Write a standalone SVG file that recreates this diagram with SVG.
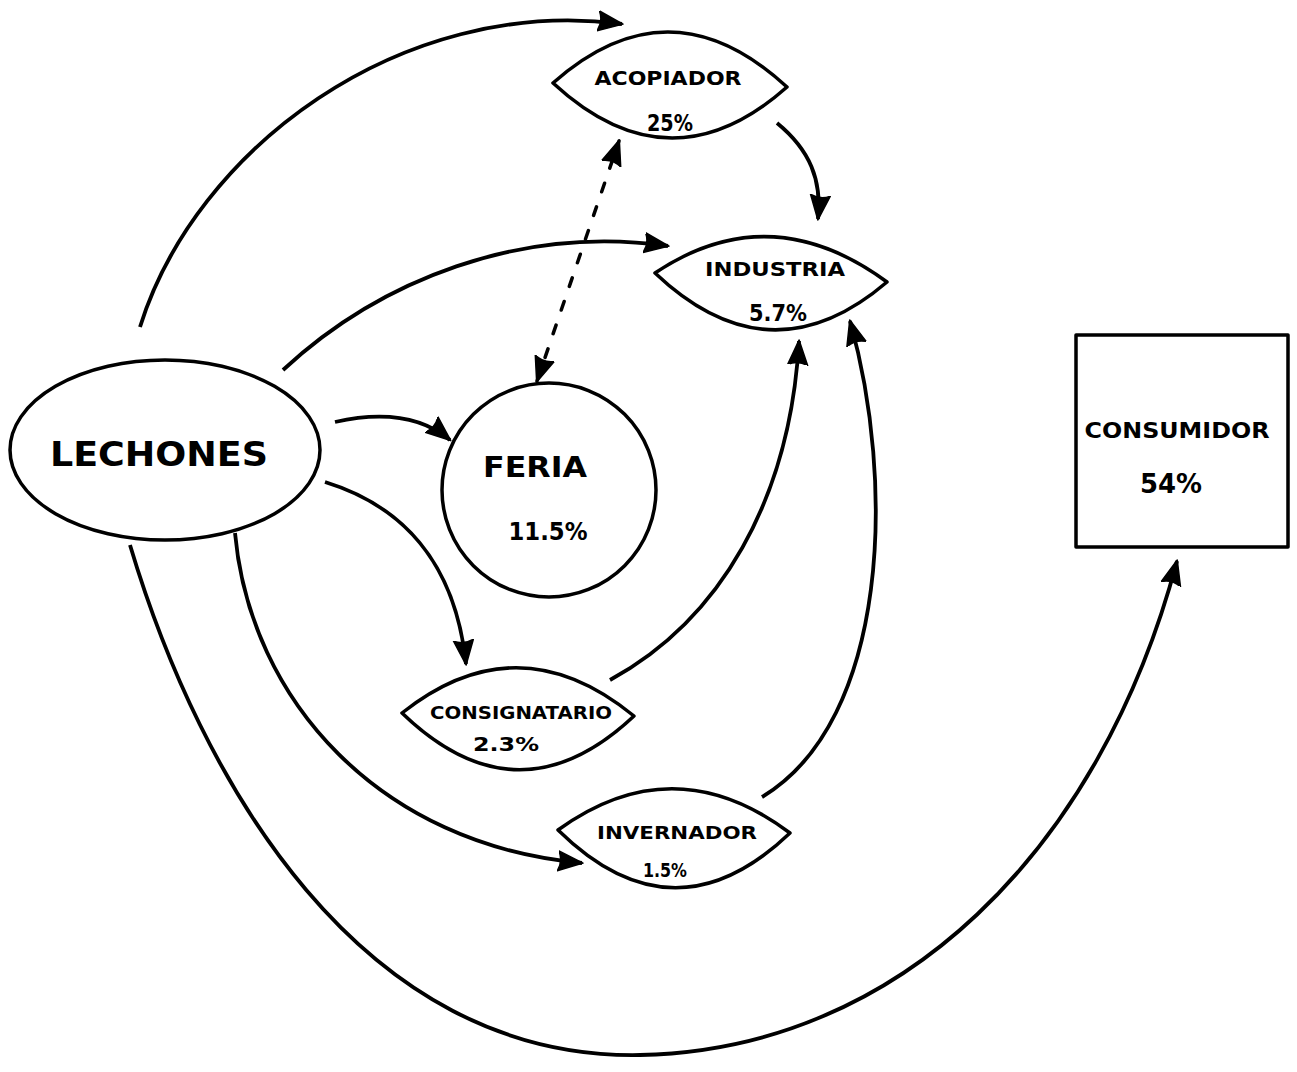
<svg xmlns="http://www.w3.org/2000/svg" width="1297" height="1072" viewBox="0 0 1297 1072">
<style>
.shape{fill:#fff;stroke:#000;stroke-width:3.5;stroke-linejoin:round}
.conn{fill:none;stroke:#000;stroke-width:3.8;stroke-linecap:butt}
.dash{fill:none;stroke:#000;stroke-width:3.5;stroke-dasharray:9 16;stroke-linecap:round}
text{font-family:"DejaVu Sans","Liberation Sans",sans-serif;font-weight:bold;fill:#000;text-anchor:middle}
</style>
<defs>
<marker id="ah" markerUnits="userSpaceOnUse" markerWidth="28" markerHeight="24" refX="24" refY="11" orient="auto-start-reverse" viewBox="0 0 28 24">
<path d="M0,1 L25,11 L0,21 Q5,11 0,1 z" fill="#000" stroke="#000" stroke-width="1.5" stroke-linejoin="round"/>
</marker>
</defs>
<rect width="1297" height="1072" fill="#fff"/>
<g id="connectors">
<path class="conn" d="M140,327 C195,150 400,-5 622,24" marker-end="url(#ah)"/>
<path class="conn" d="M283,370 C380,280 520,225 668,246" marker-end="url(#ah)"/>
<path class="conn" d="M335,422 C380,412 420,415 450,440" marker-end="url(#ah)"/>
<path class="conn" d="M325,482 C400,505 455,560 466,664" marker-end="url(#ah)"/>
<path class="conn" d="M235,533 C250,700 380,845 582,863" marker-end="url(#ah)"/>
<path class="conn" d="M130,545 C200,780 360,1060 640,1055 C900,1050 1100,850 1177,561" marker-end="url(#ah)"/>
<path class="conn" d="M777,123 C810,150 822,180 818,219" marker-end="url(#ah)"/>
<path class="conn" d="M610,680 C720,620 790,500 799,341" marker-end="url(#ah)"/>
<path class="conn" d="M762,797 C890,720 895,480 850,321" marker-end="url(#ah)"/>
<path class="dash" d="M537,381 L619,141" marker-start="url(#ah)" marker-end="url(#ah)"/>
</g>
<g id="lechones">
<ellipse class="shape" cx="165" cy="450" rx="155" ry="90"/>
<text x="159" y="466" font-size="34" textLength="218" lengthAdjust="spacingAndGlyphs">LECHONES</text>
</g>
<g id="acopiador">
<path class="shape" d="M553,83 Q670,-21 787,87 Q670,191 553,83 z"/>
<text x="668" y="85" font-size="19" textLength="147" lengthAdjust="spacingAndGlyphs">ACOPIADOR</text>
<text x="670" y="131" font-size="23" textLength="46" lengthAdjust="spacingAndGlyphs">25%</text>
</g>
<g id="industria">
<path class="shape" d="M655,273 Q770,196 887,282 Q770,382 655,273 z"/>
<text x="775" y="276" font-size="20" textLength="140" lengthAdjust="spacingAndGlyphs">INDUSTRIA</text>
<text x="778" y="321" font-size="23" textLength="58" lengthAdjust="spacingAndGlyphs">5.7%</text>
</g>
<g id="feria">
<circle class="shape" cx="549" cy="490" r="107"/>
<text x="535" y="477" font-size="29" textLength="104" lengthAdjust="spacingAndGlyphs">FERIA</text>
<text x="548" y="540" font-size="25" textLength="79" lengthAdjust="spacingAndGlyphs">11.5%</text>
</g>
<g id="consignatario">
<path class="shape" d="M402,713 Q518,621 634,716 Q518,825 402,713 z"/>
<text x="521" y="719" font-size="17" textLength="182" lengthAdjust="spacingAndGlyphs">CONSIGNATARIO</text>
<text x="506" y="751" font-size="20" textLength="66" lengthAdjust="spacingAndGlyphs">2.3%</text>
</g>
<g id="invernador">
<path class="shape" d="M558,830 Q674,746 790,833 Q674,944 558,830 z"/>
<text x="677" y="839" font-size="18" textLength="160" lengthAdjust="spacingAndGlyphs">INVERNADOR</text>
<text x="665" y="877" font-size="20" textLength="44" lengthAdjust="spacingAndGlyphs">1.5%</text>
</g>
<g id="consumidor">
<rect class="shape" x="1076" y="335" width="212" height="212"/>
<text x="1177" y="438" font-size="22" textLength="185" lengthAdjust="spacingAndGlyphs">CONSUMIDOR</text>
<text x="1171" y="493" font-size="27" textLength="62" lengthAdjust="spacingAndGlyphs">54%</text>
</g>
</svg>
